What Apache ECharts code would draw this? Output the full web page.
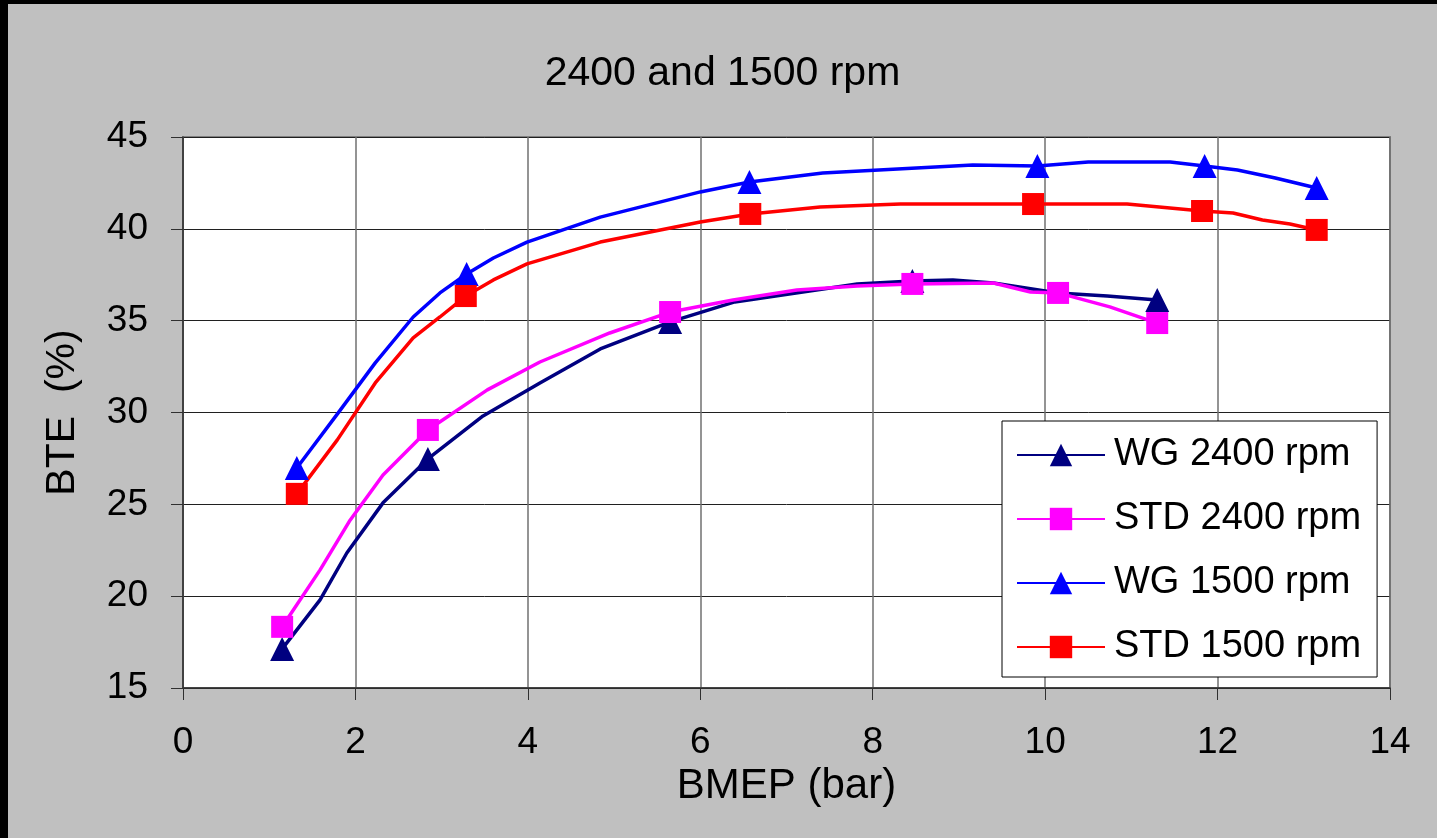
<!DOCTYPE html>
<html>
<head>
<meta charset="utf-8">
<title>2400 and 1500 rpm</title>
<script src="https://cdn.jsdelivr.net/npm/echarts@6/dist/echarts.min.js"></script>
<style>
  html, body { margin: 0; padding: 0; background: #000; width: 1437px; height: 838px; overflow: hidden; }
  #chart { position: absolute; left: 8px; top: 4px; width: 1429px; height: 834px; }
</style>
</head>
<body>
<div id="chart"></div>
<script>
// measured points (drawn with markers)
var wg2400Pts = [[1.15, 17.13], [2.84, 27.47], [5.65, 34.93], [8.46, 37.16], [11.30, 36.13]];
var std2400Pts = [[1.15, 18.33], [2.84, 29.05], [5.65, 35.47], [8.46, 37.00], [10.15, 36.51], [11.30, 34.87]];
var wg1500Pts = [[1.32, 26.98], [3.29, 37.54], [6.57, 42.55], [9.91, 43.42], [11.85, 43.42], [13.15, 42.22]];
var std1500Pts = [[1.32, 25.57], [3.28, 36.34], [6.58, 40.81], [9.86, 41.35], [11.82, 40.97], [13.15, 39.94]];

// smoothed curve vertices between the measured points (no marker)
var wg2400Curve = [[1.59, 19.80], [1.90, 22.35], [2.32, 25.08], [3.48, 29.81], [4.14, 31.61], [4.84, 33.46],
  [6.40, 36.02], [7.82, 37.00], [8.93, 37.22], [9.40, 37.05], [10.15, 36.51], [10.72, 36.34]];
var std2400Curve = [[1.59, 21.43], [1.94, 24.15], [2.32, 26.60], [3.53, 31.23], [4.14, 32.75], [4.95, 34.33],
  [6.38, 36.13], [7.12, 36.67], [7.82, 36.89], [9.40, 37.05], [9.83, 36.56], [10.75, 35.75]];
var wg1500Curve = [[1.80, 29.98], [2.23, 32.70], [2.67, 35.20], [2.98, 36.51], [3.60, 38.41], [3.99, 39.28],
  [4.84, 40.64], [6.00, 42.01], [7.42, 43.04], [9.16, 43.48], [10.50, 43.64], [11.45, 43.64], [12.23, 43.20], [12.67, 42.77]];
var std1500Curve = [[1.79, 28.51], [2.23, 31.61], [2.67, 34.06], [2.98, 35.20], [3.60, 37.22], [3.99, 38.09],
  [4.84, 39.28], [6.00, 40.37], [7.39, 41.19], [8.32, 41.35], [10.95, 41.35], [12.18, 40.86], [12.52, 40.48], [12.84, 40.26]];

var seriesNames = ['WG 2400 rpm', 'STD 2400 rpm', 'WG 1500 rpm', 'STD 1500 rpm'];
var xTicks = [0, 2, 4, 6, 8, 10, 12, 14];
var yTicks = [15, 20, 25, 30, 35, 40, 45];

var fontFam = 'Liberation Sans, Arial, sans-serif';

// merge markers and curve vertices, sorted by x
function buildLine(pts, curve, size) {
  var all = pts.map(function (p) { return { value: p, symbolSize: size }; })
    .concat(curve.map(function (p) { return { value: p, symbolSize: 0 }; }));
  all.sort(function (a, b) { return a.value[0] - b.value[0]; });
  return all;
}

function lineSeries(name, pts, curve, color, symbol, size) {
  return {
    name: name,
    type: 'line',
    data: buildLine(pts, curve, size),
    symbol: symbol,
    symbolSize: size,
    showAllSymbol: true,
    color: color,
    lineStyle: { color: color, width: 3.5 },
    itemStyle: { color: color },
    emphasis: { disabled: true }
  };
}

var myChart = echarts.init(document.getElementById('chart'));

var option = {
  animation: false,
  backgroundColor: '#c0c0c0',
  title: {
    text: '2400 and 1500 rpm',
    left: 'center',
    top: 44,
    textStyle: { fontFamily: fontFam, fontSize: 41, fontWeight: 'normal', color: '#000' }
  },
  grid: {
    left: 175, right: 47, top: 133, bottom: 150,
    show: true,
    backgroundColor: '#fff',
    borderColor: '#808080',
    borderWidth: 2
  },
  legend: {
    orient: 'vertical',
    left: 994,
    top: 417,
    data: seriesNames,
    backgroundColor: '#fff',
    borderColor: '#000',
    borderWidth: 1,
    padding: [14, 16, 10, 14],
    itemWidth: 88,
    itemHeight: 28,
    itemGap: 24,
    textStyle: { fontFamily: fontFam, fontSize: 38, color: '#000', lineHeight: 40, padding: [0, 0, 0, 4] }
  },
  xAxis: {
    type: 'value',
    min: xTicks[0], max: xTicks[xTicks.length - 1], interval: 2,
    name: 'BMEP (bar)',
    nameLocation: 'middle',
    nameGap: 77,
    nameTextStyle: { fontFamily: fontFam, fontSize: 42, color: '#000' },
    axisLine: { show: true, lineStyle: { color: '#303030', width: 1.5 } },
    axisTick: { show: true, length: 12, lineStyle: { color: '#303030' } },
    axisLabel: { margin: 36, fontFamily: fontFam, fontSize: 37, color: '#000' },
    splitLine: { show: true, lineStyle: { color: '#707070', width: 1.5 } }
  },
  yAxis: {
    type: 'value',
    min: yTicks[0], max: yTicks[yTicks.length - 1], interval: 5,
    name: 'BTE  (%)',
    nameLocation: 'middle',
    nameGap: 100,
    nameTextStyle: { fontFamily: fontFam, fontSize: 41, color: '#000' },
    axisLine: { show: true, lineStyle: { color: '#303030', width: 1.5 } },
    axisTick: { show: true, length: 12, lineStyle: { color: '#303030' } },
    axisLabel: { margin: 35, fontFamily: fontFam, fontSize: 37, color: '#000' },
    splitLine: { show: true, lineStyle: { color: '#202020', width: 1 } }
  },
  series: [
    lineSeries(seriesNames[0], wg2400Pts, wg2400Curve, '#000080', 'triangle', 24),
    lineSeries(seriesNames[1], std2400Pts, std2400Curve, '#ff00ff', 'rect', 22),
    lineSeries(seriesNames[2], wg1500Pts, wg1500Curve, '#0000ff', 'triangle', 24),
    lineSeries(seriesNames[3], std1500Pts, std1500Curve, '#ff0000', 'rect', 22)
  ]
};

myChart.setOption(option);
</script>
</body>
</html>
